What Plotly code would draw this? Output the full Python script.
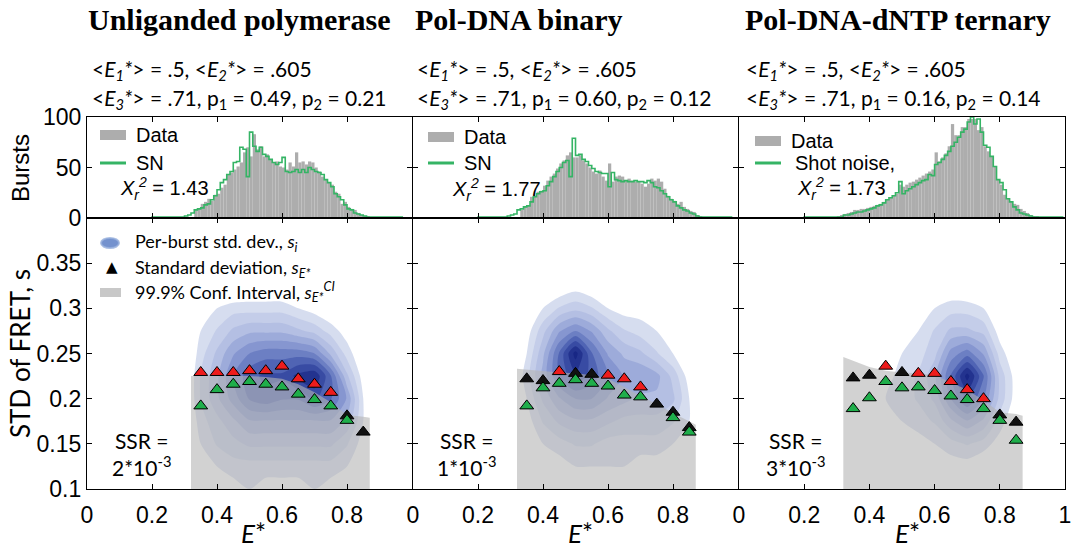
import plotly.graph_objects as go

W, H = 1073, 548

# ---------------- data ----------------
bin_centers = [round(0.005 + 0.01 * i, 3) for i in range(100)]

hist_data_1 = [0, 0, 0, 0, 0, 0, 0, 0, 0, 0,
               0, 0, 0, 0, 0, 0, 0, 0, 0, 0,
               0, 0, 0, 0, 0, 0, 0, 0, 0, 0,
               0, 0, 0, 8, 9, 14, 16, 19, 17, 23,
               24, 30, 33, 43, 45, 48, 51, 55, 65, 70,
               61, 83, 68, 71, 61, 63, 58, 55, 56, 51,
               50, 48, 55, 51, 65, 55, 56, 53, 56, 55,
               50, 46, 41, 38, 35, 33, 26, 24, 14, 16,
               11, 9, 8, 5, 3, 2, 1, 0, 0, 0,
               0, 0, 0, 0, 0, 0, 0, 0, 0, 0]
hist_sn_1 = [0, 0, 0, 0, 0, 0, 0, 0, 0, 0,
             0, 0, 0, 0, 0, 0, 0, 0, 0, 0,
             1, 1, 1, 1, 1, 1, 1, 1, 1, 1,
             2, 3, 5, 8, 9, 10, 13, 14, 18, 22,
             28, 35, 38, 43, 46, 55, 56, 70, 68, 41,
             85, 71, 66, 70, 63, 61, 58, 55, 53, 55,
             60, 46, 45, 46, 48, 45, 48, 45, 50, 48,
             46, 45, 43, 38, 35, 31, 24, 21, 18, 13,
             9, 8, 5, 4, 3, 2, 1, 1, 1, 1,
             1, 1, 1, 1, 1, 1, 1, 0, 0, 0]

hist_data_2 = [0, 0, 0, 0, 0, 0, 0, 0, 0, 0,
               0, 0, 0, 0, 0, 0, 0, 0, 0, 0,
               0, 0, 0, 0, 0, 0, 0, 0, 0, 0,
               0, 0, 0, 8, 11, 12, 21, 22, 26, 27,
               32, 37, 41, 44, 49, 54, 57, 62, 65, 60,
               60, 62, 57, 54, 50, 46, 44, 47, 41, 37,
               54, 36, 41, 42, 41, 37, 39, 37, 36, 36,
               34, 31, 34, 39, 37, 39, 36, 29, 22, 19,
               17, 14, 16, 11, 9, 7, 6, 3, 2, 0,
               0, 0, 0, 0, 0, 0, 0, 0, 0, 0]
hist_sn_2 = [0, 0, 0, 0, 0, 0, 0, 0, 0, 0,
             0, 0, 0, 0, 0, 0, 0, 0, 0, 0,
             1, 1, 1, 1, 1, 1, 1, 1, 1, 2,
             3, 4, 8, 9, 11, 12, 16, 21, 24, 26,
             27, 32, 36, 41, 46, 50, 55, 57, 41, 79,
             62, 63, 58, 56, 52, 49, 46, 45, 44, 44,
             31, 45, 38, 37, 36, 37, 36, 36, 37, 36,
             36, 35, 37, 35, 31, 30, 27, 24, 21, 18,
             16, 12, 10, 8, 7, 5, 4, 2, 1, 1,
             1, 1, 1, 1, 1, 1, 1, 1, 0, 0]

hist_data_3 = [0, 0, 0, 0, 0, 0, 0, 0, 0, 0,
               0, 0, 0, 0, 0, 0, 0, 0, 0, 0,
               0, 0, 0, 0, 0, 0, 0, 0, 0, 0,
               2, 3, 4, 5, 6, 8, 8, 9, 9, 10,
               11, 12, 13, 14, 16, 18, 20, 22, 24, 33,
               31, 33, 35, 36, 38, 40, 42, 44, 46, 48,
               65, 56, 60, 64, 71, 93, 82, 82, 90, 90,
               98, 98, 98, 87, 90, 71, 66, 61, 51, 38,
               33, 23, 19, 16, 14, 13, 9, 7, 5, 3,
               2, 1, 0, 0, 0, 0, 0, 0, 0, 0]
hist_sn_3 = [0, 0, 0, 0, 0, 0, 0, 0, 0, 0,
             0, 0, 0, 0, 0, 0, 0, 0, 0, 0,
             1, 1, 1, 1, 1, 1, 1, 1, 1, 1,
             1, 1, 3, 3, 4, 5, 6, 6, 7, 8,
             9, 10, 12, 13, 15, 18, 20, 22, 25, 36,
             24, 27, 29, 31, 33, 35, 37, 38, 43, 42,
             53, 55, 58, 62, 66, 71, 75, 80, 85, 88,
             95, 100, 93, 98, 85, 72, 70, 61, 51, 38,
             35, 28, 19, 16, 11, 8, 5, 4, 3, 2,
             1, 1, 1, 1, 1, 1, 1, 1, 1, 1]

# per-burst std density grid
grid_x = [0.30, 0.35, 0.40, 0.45, 0.50, 0.55, 0.60, 0.65, 0.70, 0.75, 0.80, 0.85, 0.90]
grid_y = [0.100, 0.125, 0.150, 0.175, 0.200, 0.225, 0.250, 0.275, 0.300, 0.325, 0.350]
density_1 = [
    [0, 0.5, 1, 1, 1.5, 1, 1, 1, 1.5, 1, 0.5, 0, 0],
    [0, 1, 1.5, 2, 2, 2, 2, 2, 2, 2, 1.5, 0.5, 0],
    [0, 1.5, 2.5, 3, 3.5, 3.5, 3.5, 3.5, 3.5, 3.5, 2.5, 1, 0],
    [0, 2, 3, 4, 5, 5, 5, 5, 5, 5, 4, 1.5, 0],
    [0, 2.5, 4, 5.5, 7, 7.5, 7, 7, 8, 7, 5, 1.5, 0],
    [0, 2.5, 4, 6, 7.5, 8, 8, 9, 9.5, 7, 3.5, 1, 0],
    [0, 2, 3.5, 5, 6, 6.5, 6.5, 6.5, 6, 4, 2, 0.5, 0],
    [0, 1.5, 2.5, 3.5, 4, 4, 4, 3.5, 3, 2, 1, 0, 0],
    [0, 1, 1.5, 2, 2, 2, 2, 1.5, 1, 0.5, 0, 0, 0],
    [0, 0, 0, 0, 0.3, 0.3, 0.3, 0, 0, 0, 0, 0, 0],
    [0, 0, 0, 0, 0, 0, 0, 0, 0, 0, 0, 0, 0],
]
density_2 = [
    [0, 0, 0.5, 0.5, 1, 1, 1, 1, 0.5, 0.5, 0.5, 0, 0],
    [0, 0.5, 1, 1, 1.5, 1.5, 1.5, 1.5, 1, 1, 1, 0.5, 0],
    [0, 0.5, 1.5, 2, 2.5, 2.5, 2, 2, 2, 2, 1.5, 1, 0],
    [0, 1, 2.5, 3.5, 4, 4, 3.5, 3, 3, 3, 2.5, 1.5, 0],
    [0, 1.5, 3.5, 5, 6, 6, 5, 4.5, 4, 4, 3.5, 1.5, 0],
    [0, 2, 4.5, 7, 8.5, 7.5, 6, 5, 5, 4.5, 3, 1, 0],
    [0, 1.5, 4, 7, 10, 7, 5, 4, 3.5, 2.5, 1.5, 0.5, 0],
    [0, 1, 3, 5, 6, 5, 3.5, 2.5, 2, 1.5, 0.5, 0, 0],
    [0, 0.5, 1.5, 2.5, 3, 2.5, 1.5, 1, 1, 0.5, 0, 0, 0],
    [0, 0, 0, 0.5, 1, 0.5, 0, 0, 0, 0, 0, 0, 0],
    [0, 0, 0, 0, 0, 0, 0, 0, 0, 0, 0, 0, 0],
]
density_3 = [
    [0, 0, 0, 0, 0, 0, 0, 0, 0, 0, 0, 0, 0],
    [0, 0, 0, 0, 0, 0.5, 0.5, 1, 1, 0.5, 0.5, 0, 0],
    [0, 0, 0, 0.5, 0.5, 1, 1.5, 2, 2.5, 2, 1, 0, 0],
    [0, 0, 0.5, 1, 1.5, 2, 2.5, 4, 5, 4, 2, 0.5, 0],
    [0, 0, 1, 1.5, 2, 2.5, 3.5, 6, 8, 6, 3, 1, 0],
    [0, 0, 0.5, 1, 2, 2.5, 4, 7, 10, 7, 3, 1, 0],
    [0, 0, 0.5, 1, 1.5, 2, 3, 5.5, 6.5, 5, 2, 0.5, 0],
    [0, 0, 0, 0.5, 1, 1.5, 2.5, 3.5, 3.5, 3, 1, 0, 0],
    [0, 0, 0, 0, 0.5, 1, 1.5, 2, 2, 1.5, 0.5, 0, 0],
    [0, 0, 0, 0, 0, 0, 0.3, 0.5, 0.3, 0, 0, 0, 0],
    [0, 0, 0, 0, 0, 0, 0, 0, 0, 0, 0, 0, 0],
]

# 99.9% confidence interval upper bound
ci_x = [0.32, 0.35, 0.40, 0.45, 0.50, 0.55, 0.60, 0.65, 0.70, 0.75, 0.80, 0.85, 0.87]
ci_upper_1 = [0.225, 0.225, 0.225, 0.225, 0.225, 0.224, 0.222, 0.216, 0.207, 0.196, 0.182, 0.180, 0.179]
ci_upper_2 = [0.233, 0.232, 0.230, 0.229, 0.228, 0.226, 0.222, 0.213, 0.203, 0.194, 0.184, 0.175, 0.171]
ci_upper_3 = [0.246, 0.242, 0.235, 0.231, 0.229, 0.228, 0.226, 0.218, 0.210, 0.198, 0.185, 0.183, 0.181]
ci_floor = 0.1

# triangle markers
e_bins = [0.35, 0.40, 0.45, 0.50, 0.55, 0.60, 0.65, 0.70, 0.75, 0.80, 0.85]
std_black_1 = [None, None, None, None, None, None, None, None, None, 0.181, 0.163]
std_red_1 = [0.229, 0.229, 0.229, 0.231, 0.231, 0.236, 0.222, 0.216, 0.207, None, None]
std_green_1 = [0.192, 0.210, 0.216, 0.219, 0.216, 0.213, 0.205, 0.199, 0.192, 0.176, None]

std_black_2 = [0.222, 0.220, None, 0.228, 0.227, None, None, None, 0.194, 0.185, 0.168]
std_red_2 = [None, None, 0.230, None, None, 0.226, 0.222, 0.213, None, None, None]
std_green_2 = [0.192, 0.212, 0.217, 0.221, 0.217, 0.214, 0.204, 0.202, None, 0.179, 0.163]

std_black_3 = [0.223, 0.226, None, 0.229, None, None, None, None, None, 0.182, 0.174]
std_red_3 = [None, None, 0.236, None, 0.228, 0.228, 0.219, 0.210, 0.200, None, None]
std_green_3 = [0.189, 0.201, 0.219, 0.212, 0.213, 0.209, 0.203, 0.199, 0.189, 0.176, 0.154]

titles = ["Unliganded polymerase", "Pol-DNA binary", "Pol-DNA-dNTP ternary"]
p1_vals = ["0.49", "0.60", "0.16"]
p2_vals = ["0.21", "0.12", "0.14"]
chi2_vals = ["1.43", "1.77", "1.73"]
ssr_vals = ["2", "1", "3"]

# ---------------- layout helpers ----------------
def px(x):
    return x / W

def py(y):
    return 1 - y / H

panel_x = [(87, 412), (413, 738), (739, 1065)]
hist_top, hist_bot = 117, 218
low_top, low_bot = 218, 489

TICK_FONT = dict(family="Liberation Sans, Arial", size=23, color="black")
CAL = "Lato, Carlito, Calibri"
GREEN_LINE = "#35b465"

fig = go.Figure()

hist_data = [hist_data_1, hist_data_2, hist_data_3]
hist_sn = [hist_sn_1, hist_sn_2, hist_sn_3]
dens = [density_1, density_2, density_3]
ci_up = [ci_upper_1, ci_upper_2, ci_upper_3]
blacks = [std_black_1, std_black_2, std_black_3]
reds = [std_red_1, std_red_2, std_red_3]
greens = [std_green_1, std_green_2, std_green_3]

colorscale = [
    [0.0, "rgba(255,255,255,0)"],
    [0.05, "rgba(255,255,255,0)"],
    [0.06, "rgba(224,229,242,0.9)"],
    [0.35, "rgba(178,190,226,0.9)"],
    [0.6, "rgba(120,138,202,0.92)"],
    [0.8, "rgba(66,86,172,0.94)"],
    [1.0, "rgba(24,38,132,0.96)"],
]

for k in range(3):
    hx = "x" if k == 0 else f"x{k+1}"
    hy = "y" if k == 0 else f"y{k+1}"
    lx = f"x{k+4}"
    ly = f"y{k+4}"
    fig.add_trace(go.Bar(x=bin_centers, y=hist_data[k], width=0.01,
                         marker=dict(color="#adadad", line_width=0),
                         xaxis=hx, yaxis=hy, showlegend=False, hoverinfo="skip"))
    fig.add_trace(go.Scatter(x=bin_centers, y=hist_sn[k], mode="lines",
                             line=dict(color=GREEN_LINE, width=1.6, shape="hvh"),
                             xaxis=hx, yaxis=hy, showlegend=False, hoverinfo="skip"))
    fig.add_trace(go.Contour(x=grid_x, y=grid_y, z=dens[k], xaxis=lx, yaxis=ly,
                             showscale=False, zmin=0, zmax=10,
                             contours=dict(start=0.6, end=10, size=0.9, coloring="fill",
                                           showlines=False),
                             line=dict(width=0, smoothing=0.7),
                             colorscale=colorscale, hoverinfo="skip"))
    poly_x = ci_x + ci_x[::-1]
    poly_y = ci_up[k] + [ci_floor] * len(ci_x)
    fig.add_trace(go.Scatter(x=poly_x, y=poly_y, mode="lines", fill="toself",
                             fillcolor="rgba(180,180,180,0.6)", line=dict(width=0),
                             xaxis=lx, yaxis=ly, showlegend=False, hoverinfo="skip"))
    for vals, col in [(blacks[k], "#111111"), (reds[k], "#ee1c1c"), (greens[k], "#1fae4b")]:
        fig.add_trace(go.Scatter(x=e_bins, y=vals, mode="markers",
                                 marker=dict(symbol="triangle-up", size=12, color=col,
                                             line=dict(color="black", width=1)),
                                 xaxis=lx, yaxis=ly, showlegend=False, hoverinfo="skip"))

axis_common = dict(showline=True, linecolor="black", linewidth=1.3, mirror="ticks",
                   ticks="inside", ticklen=5, tickcolor="black", tickwidth=1.2,
                   showgrid=False, zeroline=False, tickfont=TICK_FONT, automargin=False)

layout = dict(width=W, height=H, margin=dict(l=0, r=0, t=0, b=0, autoexpand=False),
              paper_bgcolor="white", plot_bgcolor="white", showlegend=False)

for k in range(3):
    x0, x1 = panel_x[k]
    dom_x = [px(x0), px(x1)]
    hn = "" if k == 0 else str(k + 1)
    ln = str(k + 4)
    layout["xaxis" + hn] = dict(axis_common, domain=dom_x, range=[0, 1], anchor="y" + hn,
                                tickvals=[0, 0.2, 0.4, 0.6, 0.8, 1], showticklabels=False)
    layout["yaxis" + hn] = dict(axis_common, domain=[py(hist_bot), py(hist_top)], range=[0, 100],
                                anchor="x" + hn, tickvals=[0, 50, 100],
                                showticklabels=(k == 0))
    ticktext = ["0", "0.2", "0.4", "0.6", "0.8", "1" if k == 2 else ""]
    layout["xaxis" + ln] = dict(axis_common, domain=dom_x, range=[0, 1], anchor="y" + ln,
                                tickvals=[0, 0.2, 0.4, 0.6, 0.8, 1], ticktext=ticktext,
                                ticklabelstandoff=5)
    layout["yaxis" + ln] = dict(axis_common, domain=[py(low_bot), py(low_top)], range=[0.1, 0.4],
                                anchor="x" + ln, tickvals=[0.1, 0.15, 0.2, 0.25, 0.3, 0.35],
                                ticktext=["0.1", "0.15", "0.2", "0.25", "0.3", "0.35"],
                                showticklabels=(k == 0))

fig.update_layout(**layout)

ann = []
shapes = []

def text(x, y, s, size, family=CAL, xanchor="left", color="black", angle=0):
    ann.append(dict(x=px(x), y=py(y), xref="paper", yref="paper", text=s, showarrow=False,
                    xanchor=xanchor, yanchor="middle", textangle=angle,
                    font=dict(family=family, size=size, color=color)))

title_x = [86, 413, 743]
stat_x = [90, 415, 744]
for k in range(3):
    text(title_x[k], 20, "<b>" + titles[k] + "</b>", 30, family="Liberation Serif, Times New Roman")
    text(stat_x[k], 70, "&lt;<i>E<sub>1</sub>*</i>&gt; = .5, &lt;<i>E<sub>2</sub>*</i>&gt; = .605", 21)
    text(stat_x[k], 99, "&lt;<i>E<sub>3</sub>*</i>&gt; = .71, p<sub>1</sub> = " + p1_vals[k]
         + ", p<sub>2</sub> = " + p2_vals[k], 21)

# histogram legends
leg_x = [(100, 126, 134, 118), (428, 454, 462, 450), (755, 781, 789, 795)]
leg_y = [(135, 163, 188), (137, 163, 189), (141, 163, 188)]
sn_label = ["SN", "SN", "Shot noise,"]
for k in range(3):
    a, b, tx, cx = leg_x[k]
    yd, ys, yc = leg_y[k]
    shapes.append(dict(type="rect", xref="paper", yref="paper", x0=px(a), x1=px(b),
                       y0=py(yd + 5), y1=py(yd - 5), fillcolor="#adadad", line_width=0))
    shapes.append(dict(type="line", xref="paper", yref="paper", x0=px(a), x1=px(b),
                       y0=py(ys), y1=py(ys), line=dict(color=GREEN_LINE, width=3)))
    text(tx, yd, "Data", 20, family="Liberation Sans, Arial")
    text(tx if k < 2 else tx + 4, ys, sn_label[k], 20, family="Liberation Sans, Arial")
    text(cx, yc, "<i>Χ<sub>r</sub><sup>2</sup></i> = " + chi2_vals[k], 20,
         family="Liberation Sans, Arial")

# lower panel legend (panel 1)
shapes.append(dict(type="circle", xref="paper", yref="paper", x0=px(101), x1=px(119),
                   y0=py(248), y1=py(238), fillcolor="rgba(70,110,190,0.75)",
                   line=dict(color="rgba(150,175,220,0.8)", width=2)))
text(133, 243, "Per-burst std. dev., <i>s<sub>i</sub></i>", 18)
text(112, 267, "▲", 15, family="DejaVu Sans", xanchor="center")
text(133, 268, "Standard deviation, <i>s<sub>E*</sub></i>", 18)
shapes.append(dict(type="rect", xref="paper", yref="paper", x0=px(100), x1=px(121),
                   y0=py(297), y1=py(288), fillcolor="#c8c8c8", line_width=0))
text(133, 292, "99.9% Conf. Interval, <i>s<sub>E*</sub><sup>CI</sup></i>", 18)

# SSR
ssr_x = [110, 435, 764]
for k in range(3):
    text(ssr_x[k], 454, "SSR =<br>" + ssr_vals[k] + "*10<sup>-3</sup>", 21)

# axis titles
centers = [253, 580, 907]
for k in range(3):
    text(centers[k], 533, "<i>E</i>*", 26, xanchor="center")
text(20, 168, "Bursts", 24, family="Liberation Sans, Arial", xanchor="center", angle=-90)
text(20, 354, "STD of FRET, s", 26, xanchor="center", angle=-90)

fig.update_layout(annotations=ann, shapes=shapes)
fig.write_html("out.html")
